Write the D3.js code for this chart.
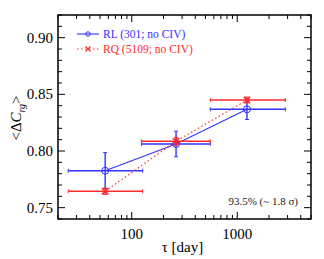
<!DOCTYPE html>
<html>
<head>
  <meta charset="utf-8" />
  <script src="https://cdnjs.cloudflare.com/ajax/libs/d3/7.8.5/d3.min.js"></script>
  <style>
    body { margin: 0; background: #fff; }
  </style>
</head>
<body>
  <svg width="324" height="259"></svg>
  <script>
    // tau (days) with bin edges, and mean delta C_rg with error
    var rlTau  = [56, 263, 1236]
    var rlLo   = [25, 124, 555]
    var rlHi   = [127, 555, 2856]
    var rlVal  = [0.7826, 0.8062, 0.8368]
    var rlErr  = [0.016, 0.0113, 0.009]

    var rqTau  = [56, 263, 1236]
    var rqLo   = [25, 124, 555]
    var rqHi   = [127, 555, 2856]
    var rqVal  = [0.7645, 0.8086, 0.845]
    var rqErr  = [0.0028, 0.0035, 0.0026]

    var yTicks = [0.75, 0.80, 0.85, 0.90]
    var xTicks = [100, 1000]

    var svg = d3.select("svg")
      .attr("font-family", "'Liberation Serif', 'Times New Roman', Times, 'DejaVu Serif', serif")
    var L = 58, R = 311, T = 15, B = 219

    var x = d3.scaleLog().domain([20, 5000]).range([L, R])
    var y = d3.scaleLinear().domain([0.74, 0.92]).range([B, T])

    var blue = "#3333ff", red = "#ff2a2a"

    // minor / major ticks
    var xMinor = []
    ;[10, 100, 1000].forEach(function(dec) {
      for (var k = 1; k <= 9; k++) {
        var v = dec * k
        if (v >= 20 && v <= 5000) xMinor.push(v)
      }
    })
    var yMinor = d3.range(74, 93).map(d => d / 100)

    var ticks = svg.append("g").attr("stroke", "#000").attr("stroke-width", 1)
    xMinor.forEach(function(v) {
      var big = xTicks.indexOf(v) >= 0
      var len = big ? 7 : 4
      ticks.append("line").attr("x1", x(v)).attr("x2", x(v)).attr("y1", B).attr("y2", B - len)
      ticks.append("line").attr("x1", x(v)).attr("x2", x(v)).attr("y1", T).attr("y2", T + len)
    })
    yMinor.forEach(function(v) {
      var big = yTicks.some(t => Math.abs(t - v) < 1e-6)
      var len = big ? 7 : 4
      ticks.append("line").attr("y1", y(v)).attr("y2", y(v)).attr("x1", L).attr("x2", L + len)
      ticks.append("line").attr("y1", y(v)).attr("y2", y(v)).attr("x1", R).attr("x2", R - len)
    })

    svg.append("rect")
      .attr("x", L).attr("y", T).attr("width", R - L).attr("height", B - T)
      .attr("fill", "none").attr("stroke", "#000").attr("stroke-width", 1.5)

    svg.selectAll("text.yt").data(yTicks).enter().append("text")
      .attr("x", L - 5).attr("y", d => y(d) + 5)
      .attr("text-anchor", "end").attr("font-size", 15)
      .text(d => d3.format(".2f")(d))

    svg.selectAll("text.xt").data(xTicks).enter().append("text")
      .attr("x", d => x(d)).attr("y", 239)
      .attr("text-anchor", "middle").attr("font-size", 15)
      .text(d => d)

    svg.append("text")
      .attr("x", (L + R) / 2 - 2).attr("y", 252)
      .attr("text-anchor", "middle").attr("font-size", 15)
      .text("\u03c4 [day]")

    var yl = svg.append("text")
      .attr("transform", "translate(21,118) rotate(-90)")
      .attr("text-anchor", "middle").attr("font-size", 15)
    yl.append("tspan").text("<\u0394")
    yl.append("tspan").attr("font-style", "italic").text("C")
    yl.append("tspan").attr("font-size", 10).attr("font-style", "italic").attr("dy", 4).text("rg")
    yl.append("tspan").attr("dy", -4).text(">")

    svg.append("text")
      .attr("x", 298).attr("y", 205)
      .attr("text-anchor", "end").attr("font-size", 11).attr("fill", "#222")
      .text("93.5% (~ 1.8 \u03c3)")

    function series(tau, lo, hi, val, err, color, dash, marker) {
      var g = svg.append("g")
      var line = d3.line().x(d => x(d[0])).y(d => y(d[1]))
      g.append("path")
        .attr("d", line(tau.map((t, i) => [t, val[i]])))
        .attr("fill", "none").attr("stroke", color).attr("stroke-width", 1.1)
        .attr("stroke-dasharray", dash)
      tau.forEach(function(t, i) {
        var cx = x(t), cy = y(val[i])
        g.append("line").attr("x1", x(lo[i])).attr("x2", x(hi[i])).attr("y1", cy).attr("y2", cy)
          .attr("stroke", color).attr("stroke-width", 1.4)
        g.append("line").attr("x1", cx).attr("x2", cx).attr("y1", y(val[i] - err[i])).attr("y2", y(val[i] + err[i]))
          .attr("stroke", color).attr("stroke-width", 1.4)
        ;[x(lo[i]), x(hi[i])].forEach(function(px) {
          g.append("line").attr("x1", px).attr("x2", px).attr("y1", cy - 2).attr("y2", cy + 2)
            .attr("stroke", color).attr("stroke-width", 1)
        })
        ;[y(val[i] - err[i]), y(val[i] + err[i])].forEach(function(py) {
          g.append("line").attr("x1", cx - 2).attr("x2", cx + 2).attr("y1", py).attr("y2", py)
            .attr("stroke", color).attr("stroke-width", 1)
        })
        drawMarker(g, marker, cx, cy, color)
      })
    }

    function drawMarker(g, marker, cx, cy, color) {
      if (marker === "circle") {
        g.append("circle").attr("cx", cx).attr("cy", cy).attr("r", 3.5)
          .attr("fill", "none").attr("stroke", color).attr("stroke-width", 1)
      } else {
        var s = 3.2
        g.append("path")
          .attr("d", `M${cx - s},${cy - s}L${cx + s},${cy + s}M${cx - s},${cy + s}L${cx + s},${cy - s}`)
          .attr("stroke", color).attr("stroke-width", 1.6)
      }
    }

    series(rlTau, rlLo, rlHi, rlVal, rlErr, blue, null, "circle")
    series(rqTau, rqLo, rqHi, rqVal, rqErr, red, "1.5,2.5", "cross")

    // legend
    var legend = [
      { label: "RL (301; no CIV)", color: blue, dash: null, marker: "circle", y: 34 },
      { label: "RQ (5109; no CIV)", color: red, dash: "1.5,2.5", marker: "cross", y: 49 }
    ]
    legend.forEach(function(d) {
      svg.append("line").attr("x1", 77).attr("x2", 99).attr("y1", d.y).attr("y2", d.y)
        .attr("stroke", d.color).attr("stroke-width", 1.1).attr("stroke-dasharray", d.dash)
      if (d.marker === "circle") {
        svg.append("circle").attr("cx", 88).attr("cy", d.y).attr("r", 2.2)
          .attr("fill", "none").attr("stroke", d.color).attr("stroke-width", 1)
      } else {
        svg.append("path").attr("d", `M85.5,${d.y - 2.5}L90.5,${d.y + 2.5}M85.5,${d.y + 2.5}L90.5,${d.y - 2.5}`)
          .attr("stroke", d.color).attr("stroke-width", 1.1)
      }
      svg.append("text").attr("x", 103).attr("y", d.y + 4)
        .attr("font-size", 11.5).attr("fill", d.color).text(d.label)
    })
  </script>
</body>
</html>
